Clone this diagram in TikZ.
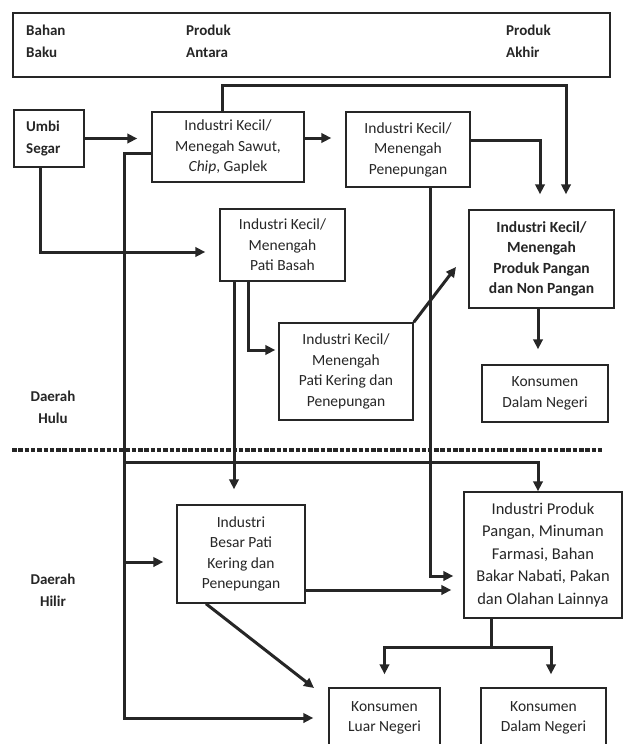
\documentclass[tikz,border=0pt]{standalone}
\usepackage{fontspec}
\setmainfont{Carlito}
\usetikzlibrary{arrows.meta}
\definecolor{ink}{RGB}{38,38,38}
\newcommand\txtf{\fontsize{15.5}{20.5}\selectfont}
\newcommand\labf{\fontsize{15}{22}\selectfont\bfseries}
\begin{document}
\begin{tikzpicture}[x=1pt,y=-1pt,
  box/.style={draw=ink,line width=1.5pt,align=center,inner sep=0pt,font=\txtf,text=ink},
  conn/.style={draw=ink,line width=3pt},
  arr/.style={conn,-{Triangle[length=10pt,width=9.5pt]}},
  lbl/.style={align=left,inner sep=0pt,font=\labf,text=ink,anchor=west},
  reg/.style={align=center,inner sep=0pt,font=\labf,text=ink}]
\useasboundingbox (0,0) rectangle (626,744);
\fill[white] (0,0) rectangle (626,744);

% header
\node[box,minimum width=597pt,minimum height=64pt] (top) at (311.5,45) {};
\node[lbl] (bb) at (26,41) {Bahan\\Baku};
\node[lbl] (pa) at (186,41) {Produk\\Antara};
\node[lbl] (pk) at (506,41) {Produk\\Akhir};

% region separator
\draw[ink,line width=4pt,dash pattern=on 4.5pt off 1.8pt] (12,450) -- (604,450);
\node[reg] (hulu) at (53,407) {Daerah\\Hulu};
\node[reg] (hilir) at (53,590) {Daerah\\Hilir};

% boxes
\node[box,minimum width=70pt,minimum height=57pt] (umbi) at (49,138.5) {};
\node[lbl] (umbit) at (26,139) {Umbi\\Segar};
\node[box,minimum width=152pt,minimum height=70pt] (sawut) at (228,147) {Industri Kecil/\\Menegah Sawut,\\\textit{Chip}, Gaplek};
\node[box,minimum width=124pt,minimum height=75pt] (pene) at (408,149.5) {Industri Kecil/\\Menengah\\Penepungan};
\node[box,minimum width=125pt,minimum height=72pt] (basah) at (282.5,245) {Industri Kecil/\\Menengah\\Pati Basah};
\node[box,minimum width=134pt,minimum height=97pt] (kering) at (346,371.5) {Industri Kecil/\\Menengah\\Pati Kering dan\\Penepungan};
\node[box,minimum width=145pt,minimum height=98pt,font=\txtf\bfseries] (pangan) at (541.5,259) {Industri Kecil/\\Menengah\\Produk Pangan\\dan Non Pangan};
\node[box,minimum width=126pt,minimum height=57pt] (kdn1) at (545,393.5) {Konsumen\\Dalam Negeri};
\node[box,minimum width=128pt,minimum height=98pt] (besar) at (241,554) {Industri\\Besar Pati\\Kering dan\\Penepungan};
\node[box,minimum width=158pt,minimum height=126pt,font=\fontsize{16.5}{22.5}\selectfont] (produk) at (543,555) {Industri Produk\\Pangan, Minuman\\Farmasi, Bahan\\Bakar Nabati, Pakan\\dan Olahan Lainnya};
\node[box,minimum width=111pt,minimum height=60pt] (kln) at (384.5,718) {Konsumen\\Luar Negeri};
\node[box,minimum width=125pt,minimum height=60pt] (kdn2) at (543.5,718) {Konsumen\\Dalam Negeri};

\coordinate (kp) at (456,267);
\coordinate (kl) at (314,688);

% connectors
\draw[arr,shorten >=14pt] (umbi.east) -- (umbi.east -| sawut.west);
\draw[arr,shorten >=14pt] (sawut.east |- 0,138) -- (pene.west |- 0,138);
\draw[arr,shorten >=15pt] (222,0 |- sawut.north) |- (566,85) -- (566,0 |- pangan.north);
\draw[arr,shorten >=15pt] (pene.east |- 0,140) -| (540,0 |- pangan.north);
\draw[arr,shorten >=14pt] (40,0 |- umbi.south) |- (basah.west |- 0,252);
\draw[arr,shorten >=15pt] (sawut.west |- 0,153) -- (124,153) |- (kln.west);
\draw[arr] (124,462) -| (538,0 |- produk.north);
\draw[arr,shorten >=13pt] (124,562) -- (besar.west |- 0,562);
\draw[arr,shorten >=15pt] (234,0 |- basah.south) -- (234,0 |- besar.north);
\draw[arr,shorten >=3pt] (248,0 |- basah.south) |- (kering.west |- 0,350);
\draw[arr] (kering.north east) -- (kp);
\draw[arr,shorten >=10pt] (430,0 |- pene.south) |- (produk.west |- 0,576);
\draw[arr,shorten >=15pt] (538,0 |- pangan.south) -- (538,0 |- kdn1.north);
\draw[arr,shorten >=12pt] (besar.east |- 0,590) -- (produk.west |- 0,590);
\draw[arr,shorten >=13pt] (491,0 |- produk.south) -- (491,647) -| (kln.north);
\draw[arr,shorten >=13pt] (491,0 |- produk.south) -- (491,647) -| (551,0 |- kdn2.north);
\draw[arr] (206,0 |- besar.south) -- (kl);
\end{tikzpicture}
\end{document}
